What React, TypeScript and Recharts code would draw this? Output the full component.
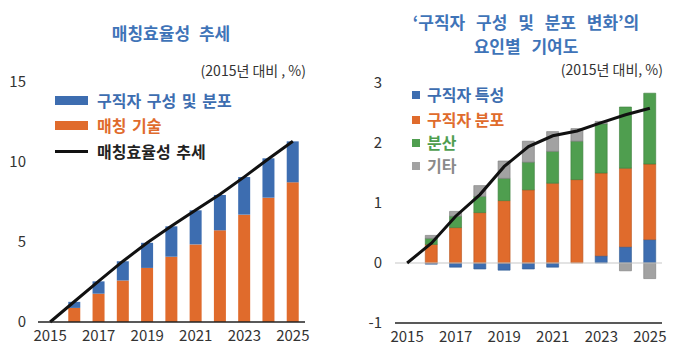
import React from 'react';
import { ComposedChart, Bar, Line, XAxis, YAxis, ReferenceLine } from 'recharts';

const years = ['2015', '2016', '2017', '2018', '2019', '2020', '2021', '2022', '2023', '2024', '2025'];

// left: 매칭효율성 추세
const leftMatching = [null, 0.88, 1.77, 2.6, 3.38, 4.08, 4.85, 5.73, 6.71, 7.77, 8.73];
const leftComposition = [null, 0.38, 0.77, 1.19, 1.57, 1.9, 2.13, 2.21, 2.35, 2.46, 2.56];
const leftTrend = [0, 1.28, 2.55, 3.8, 4.95, 6.0, 7.0, 7.98, 9.07, 10.2, 11.3];
const leftTicks = [0, 5, 10, 15];

// right: 요인별 기여도
const seekerTraits = [null, -0.02, -0.07, -0.1, -0.12, -0.1, -0.07, 0, 0.12, 0.27, 0.39];
const seekerDist = [null, 0.31, 0.59, 0.84, 1.04, 1.22, 1.33, 1.39, 1.38, 1.31, 1.26];
const dispersion = [null, 0.1, 0.19, 0.27, 0.37, 0.46, 0.53, 0.64, 0.82, 1.02, 1.18];
const other = [null, 0.05, 0.08, 0.18, 0.29, 0.35, 0.33, 0.21, 0.04, -0.13, -0.26];
const rightTrend = [0, 0.33, 0.78, 1.14, 1.61, 1.94, 2.12, 2.2, 2.34, 2.47, 2.58];
const rightTicks = [-1, 0, 1, 2, 3];

const FONT = '"Noto Sans CJK KR", "Noto Sans", sans-serif';
const BLUE = '#3d6db0';
const ORANGE = '#e06b2c';
const GREEN = '#4f9e4f';
const GRAY = '#a2a2a2';
const TITLE = '#3f74b8';

const leftData = years.map((year, i) => ({
  year,
  matching: leftMatching[i],
  composition: leftComposition[i],
  trend: leftTrend[i],
}));

const rightData = years.map((year, i) => ({
  year,
  traits: seekerTraits[i],
  dist: seekerDist[i],
  dispersion: dispersion[i],
  other: other[i],
  trend: rightTrend[i],
}));

const tickStyle = { fontSize: 15, fill: '#333', fontFamily: FONT };

const abs = (style: React.CSSProperties): React.CSSProperties => ({ position: 'absolute', fontFamily: FONT, ...style });

const App: React.FC = () => {
  return (
    <div style={{ position: 'absolute', left: 0, top: 0, width: 680, height: 352, background: '#fff', fontFamily: FONT }}>
      {/* left chart */}
      <div style={abs({ left: 0, top: 0, width: 340, height: 352 })}>
        <ComposedChart width={340} height={352} data={leftData} margin={{ top: 82, right: 35, bottom: 0, left: 0 }}>
          <XAxis
            dataKey="year"
            height={30}
            interval={1}
            tickLine={false}
            tickMargin={2}
            axisLine={{ stroke: '#222', strokeWidth: 1.5 }}
            tick={tickStyle}
          />
          <YAxis
            width={38}
            domain={[0, 15]}
            ticks={leftTicks}
            axisLine={false}
            tickLine={false}
            tickSize={0}
            tickMargin={12}
            tick={tickStyle}
          />
          <Bar dataKey="matching" stackId="a" fill={ORANGE} barSize={12} isAnimationActive={false} />
          <Bar dataKey="composition" stackId="a" fill={BLUE} barSize={12} isAnimationActive={false} />
          <Line dataKey="trend" type="linear" stroke="#111" strokeWidth={3} dot={false} isAnimationActive={false} />
        </ComposedChart>
      </div>

      {/* right chart */}
      <div style={abs({ left: 340, top: 0, width: 340, height: 352 })}>
        <ComposedChart width={340} height={352} data={rightData} stackOffset="sign" margin={{ top: 83, right: 18, bottom: 0, left: 0 }}>
          <XAxis
            dataKey="year"
            height={29}
            interval={1}
            tickLine={false}
            tickMargin={2}
            axisLine={{ stroke: '#222', strokeWidth: 1.5 }}
            tick={tickStyle}
          />
          <YAxis
            width={55}
            domain={[-1, 3]}
            ticks={rightTicks}
            axisLine={false}
            tickLine={false}
            tickSize={0}
            tickMargin={13}
            tick={tickStyle}
          />
          <ReferenceLine y={0} stroke="#c8c8c8" strokeWidth={1.2} />
          <Bar dataKey="traits" stackId="r" fill={BLUE} stroke="#2f5a92" strokeWidth={0.6} barSize={12} isAnimationActive={false} />
          <Bar dataKey="dist" stackId="r" fill={ORANGE} stroke="#b9541d" strokeWidth={0.6} barSize={12} isAnimationActive={false} />
          <Bar dataKey="dispersion" stackId="r" fill={GREEN} stroke="#3b7d3b" strokeWidth={0.6} barSize={12} isAnimationActive={false} />
          <Bar dataKey="other" stackId="r" fill={GRAY} stroke="#7a7a7a" strokeWidth={0.6} barSize={12} isAnimationActive={false} />
          <Line dataKey="trend" type="linear" stroke="#111" strokeWidth={3} dot={false} isAnimationActive={false} />
        </ComposedChart>
      </div>

      {/* titles */}
      <div style={abs({ left: 71, top: 21, width: 200, textAlign: 'center', fontSize: 17, fontWeight: 700, color: TITLE, lineHeight: '24px', wordSpacing: 5 })}>
        매칭효율성 추세
      </div>
      <div style={abs({ left: 366, top: 10, width: 320, textAlign: 'center', fontSize: 17, fontWeight: 700, color: TITLE, lineHeight: '24px', wordSpacing: 7 })}>
        ‘구직자 구성 및 분포 변화’의
        <br />
        요인별 기여도
      </div>
      <div style={abs({ right: 680 - 306, top: 60, fontSize: 14, color: '#333', whiteSpace: 'nowrap' })}>(2015년 대비 , %)</div>
      <div style={abs({ right: 680 - 663, top: 59, fontSize: 14, color: '#333', whiteSpace: 'nowrap' })}>(2015년 대비, %)</div>

      {/* left legend */}
      <div style={abs({ left: 55, top: 96, width: 33, height: 9, background: BLUE })} />
      <div style={abs({ left: 97, top: 89, fontSize: 16, fontWeight: 700, color: BLUE, lineHeight: '22px', whiteSpace: 'nowrap', wordSpacing: 2 })}>구직자 구성 및 분포</div>
      <div style={abs({ left: 55, top: 121, width: 33, height: 9, background: ORANGE })} />
      <div style={abs({ left: 97, top: 114, fontSize: 16, fontWeight: 700, color: ORANGE, lineHeight: '22px', whiteSpace: 'nowrap', wordSpacing: 2 })}>매칭 기술</div>
      <div style={abs({ left: 55, top: 150, width: 33, height: 3, background: '#111' })} />
      <div style={abs({ left: 97, top: 140, fontSize: 16, fontWeight: 700, color: '#222', lineHeight: '22px', whiteSpace: 'nowrap', wordSpacing: 2 })}>매칭효율성 추세</div>

      {/* right legend */}
      {[
        { label: '구직자 특성', color: BLUE, y: 95 },
        { label: '구직자 분포', color: ORANGE, y: 120 },
        { label: '분산', color: GREEN, y: 143 },
        { label: '기타', color: GRAY, y: 166 },
      ].map((d) => (
        <React.Fragment key={d.label}>
          <div style={abs({ left: 412, top: d.y - 4, width: 8, height: 8, background: d.color })} />
          <div style={abs({ left: 427, top: d.y - 12, fontSize: 16, fontWeight: 700, color: d.color === GRAY ? '#8a8a8a' : d.color, lineHeight: '22px', whiteSpace: 'nowrap' })}>
            {d.label}
          </div>
        </React.Fragment>
      ))}
    </div>
  );
};

export default App;
